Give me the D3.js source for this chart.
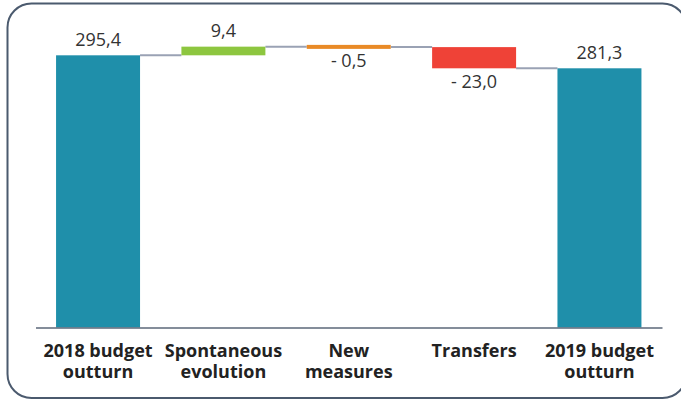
<!DOCTYPE html>
<html>
<head>
<meta charset="utf-8">
<script src="https://cdn.jsdelivr.net/npm/d3@7"></script>
<style>
  html, body { margin: 0; padding: 0; background: #fff; }
  svg { display: block; }
</style>
</head>
<body>
<svg id="chart" width="681" height="399"></svg>
<script>
// Budget bridge: 2018 outturn -> 2019 outturn
const categories = ["2018 budget outturn", "Spontaneous evolution", "New measures", "Transfers", "2019 budget outturn"];
const categoryLines = [["2018 budget", "outturn"], ["Spontaneous", "evolution"], ["New", "measures"], ["Transfers"], ["2019 budget", "outturn"]];
const values = [295.4, 9.4, -0.5, -23.0, 281.3];
const kinds = ["total", "delta", "delta", "delta", "total"];
const barColors = ["#1f8faa", "#8dc63f", "#e98a26", "#ef4237", "#1f8faa"];

const W = 681, H = 399;
const svg = d3.select("#chart");

// rounded frame
svg.append("rect")
  .attr("x", 7.5).attr("y", 3.5)
  .attr("width", 679).attr("height", 394.5)
  .attr("rx", 24).attr("ry", 24)
  .attr("fill", "none")
  .attr("stroke", "#4b5a6e")
  .attr("stroke-width", 2);

const x = d3.scaleBand()
  .domain(categories)
  .range([35.5, 662])
  .paddingInner(0.33)
  .paddingOuter(0.164);

const y = d3.scaleLinear()
  .domain([0, 350])
  .range([327.5, 5]);

// running totals -> start/end of each bar
let running = 0;
const bars = categories.map((c, i) => {
  let start, end;
  if (kinds[i] === "total") { start = 0; end = values[i]; running = values[i]; }
  else { start = running; end = running + values[i]; running = end; }
  return { cat: c, start, end, value: values[i], kind: kinds[i], color: barColors[i] };
});

const fmtNum = v => d3.format(".1f")(Math.abs(v)).replace(".", ",");
const fmtLabel = v => (v < 0 ? "- " : "") + fmtNum(v);

// connectors between bars
const conn = svg.append("g").attr("class", "connectors");
bars.slice(0, -1).forEach((b, i) => {
  const level = y(b.end);
  conn.append("line")
    .attr("x1", x(b.cat) + x.bandwidth())
    .attr("x2", x(bars[i + 1].cat))
    .attr("y1", level).attr("y2", level)
    .attr("stroke", "#9aa2b4")
    .attr("stroke-width", 2);
});

// bars (very small changes get a minimum visible thickness)
const minH = 4;
svg.append("g").selectAll("rect")
  .data(bars)
  .join("rect")
  .attr("x", d => x(d.cat))
  .attr("width", x.bandwidth())
  .attr("y", d => {
    const top = y(Math.max(d.start, d.end)), bot = y(Math.min(d.start, d.end));
    const h = bot - top;
    return h < minH ? (top + bot) / 2 - minH / 2 : top;
  })
  .attr("height", d => Math.max(minH, Math.abs(y(d.start) - y(d.end))))
  .attr("fill", d => d.color);

// value labels: above for positive, below for negative
svg.append("g").selectAll("text")
  .data(bars)
  .join("text")
  .attr("x", d => x(d.cat) + x.bandwidth() / 2)
  .attr("y", d => d.value >= 0 ? y(Math.max(d.start, d.end)) - 9.5 : y(Math.min(d.start, d.end)) + 19.5)
  .attr("text-anchor", "middle")
  .attr("font-family", "'Open Sans', sans-serif")
  .attr("font-size", 18)
  .attr("fill", "#333")
  .text(d => fmtLabel(d.value));

// category axis
const axis = svg.append("g")
  .attr("transform", `translate(0,${y(0)})`)
  .call(d3.axisBottom(x).tickSize(0).tickPadding(0));
axis.select(".domain").attr("stroke", "#5b6779").attr("stroke-width", 1.5);
axis.selectAll(".tick text").each(function(d) {
  const t = d3.select(this);
  const lines = categoryLines[categories.indexOf(d)];
  t.text(null)
    .attr("y", 0).attr("dy", null)
    .attr("font-family", "'Open Sans', sans-serif")
    .attr("font-size", 18)
    .attr("font-weight", 700)
    .attr("fill", "#222");
  lines.forEach((ln, k) => {
    t.append("tspan").attr("x", 0).attr("y", 29.5 + k * 21).text(ln);
  });
});
</script>
</body>
</html>
